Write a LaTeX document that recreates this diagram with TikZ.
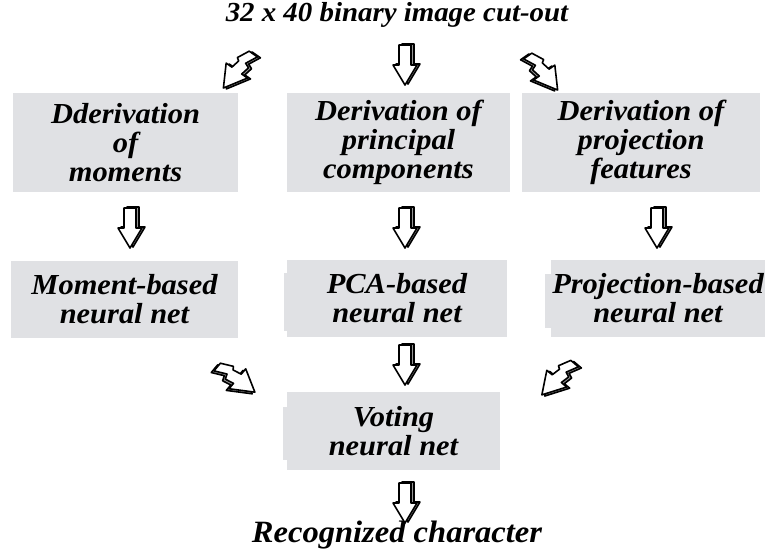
\documentclass[tikz,border=0pt]{standalone}
\usepackage{fontspec}
\setmainfont[FakeStretch=1.05]{Liberation Serif}
\usetikzlibrary{calc}
\definecolor{boxgray}{RGB}{224,225,228}
\definecolor{sidegray}{RGB}{150,150,150}
\tikzset{
  box/.style = {fill=boxgray, inner sep=0pt, align=center,
    font=\fontsize{29}{29}\selectfont\bfseries\itshape},
  caption/.style = {inner sep=0pt, font=\bfseries\itshape},
  % straight block arrow pointing down
  pics/downarrow/.style = {code = {
    \draw[line width=1.6pt, fill=sidegray, line join=round]
      (-3,-21) -- (9,-21) -- (9,-1) -- (15,-1) -- (3,19) -- (-9,-1) -- (-3,-1) -- cycle;
    \draw[line width=1.6pt, fill=white, line join=round]
      (-6,-20) -- (6,-20) -- (6,0) -- (12,0) -- (0,20) -- (-12,0) -- (-6,0) -- cycle;
  }},
  % zig-zag block arrow pointing down
  pics/boltarrow/.style = {code = {
    \draw[line width=1.6pt, fill=sidegray, line join=round]
      (3,-24) -- (13,-24) -- (7,-12) -- (12,-10) -- (10,-1) -- (17,-1) -- (3,21)
      -- (-9,-1) -- (-2,-1) -- (0,-10) -- (-3,-12) -- cycle;
    \draw[line width=1.6pt, fill=white, line join=round]
      (0,-23) -- (10,-23) -- (4,-11) -- (9,-9) -- (7,0) -- (14,0) -- (0,22)
      -- (-12,0) -- (-5,0) -- (-3,-9) -- (-6,-11) -- cycle;
  }}
}
\begin{document}
\begin{tikzpicture}[x=1pt, y=-1pt]
\useasboundingbox (0,0) rectangle (770,550);

\node[caption, font=\fontsize{27.5}{30}\selectfont\bfseries\itshape] (img) at (397,15)
  {32 x 40 binary image cut-out};

\node[box, minimum width=225, minimum height=99] (dmom) at (125.5,142.5)
  {Dderivation\\ of\\ moments};
\node[box, minimum width=223, minimum height=99] (dpca) at (398.5,142.5)
  {Derivation of\\ principal\\ components};
\node[box, minimum width=238, minimum height=99] (dproj) at (641,142.5)
  {Derivation of\\ projection\\ features};

\node[box, minimum width=227, minimum height=77] (mnet) at (124.5,299.5)
  {Moment-based\\ neural net};
\node[box, minimum width=220, minimum height=77] (pnet) at (397,298.5)
  {PCA-based\\ neural net};
\node[box, minimum width=214, minimum height=77] (jnet) at (658,298.5)
  {Projection-based\\ neural net};

\node[box, minimum width=213, minimum height=78] (vnet) at (393.5,431)
  {Voting\\ neural net};

% small strips on the left of some boxes
\fill[boxgray] ($(pnet.west)+(-2.5,-26)$) rectangle ($(pnet.west)+(0.5,32)$);
\fill[boxgray] ($(jnet.west)+(-6,-25)$) rectangle ($(jnet.west)+(0.5,29)$);
\fill[boxgray] ($(vnet.west)+(-4,-24)$) rectangle ($(vnet.west)+(0.5,29)$);

\node[caption, font=\fontsize{31}{34}\selectfont\bfseries\itshape] (rec) at (397,535)
  {Recognized character};

% arrows
\pic[rotate=-35] at (236,70) {boltarrow};
\pic at (405,65) {downarrow};
\pic[rotate=35, xscale=-1] at (545,72) {boltarrow};

\pic at (130,228) {downarrow};
\pic at (405,228) {downarrow};
\pic at (657,228) {downarrow};

\pic[rotate=50, xscale=-1] at (238,378) {boltarrow};
\pic at (405,365) {downarrow};
\pic[rotate=-40] at (556,378) {boltarrow};

\pic at (405,503) {downarrow};

\end{tikzpicture}
\end{document}
